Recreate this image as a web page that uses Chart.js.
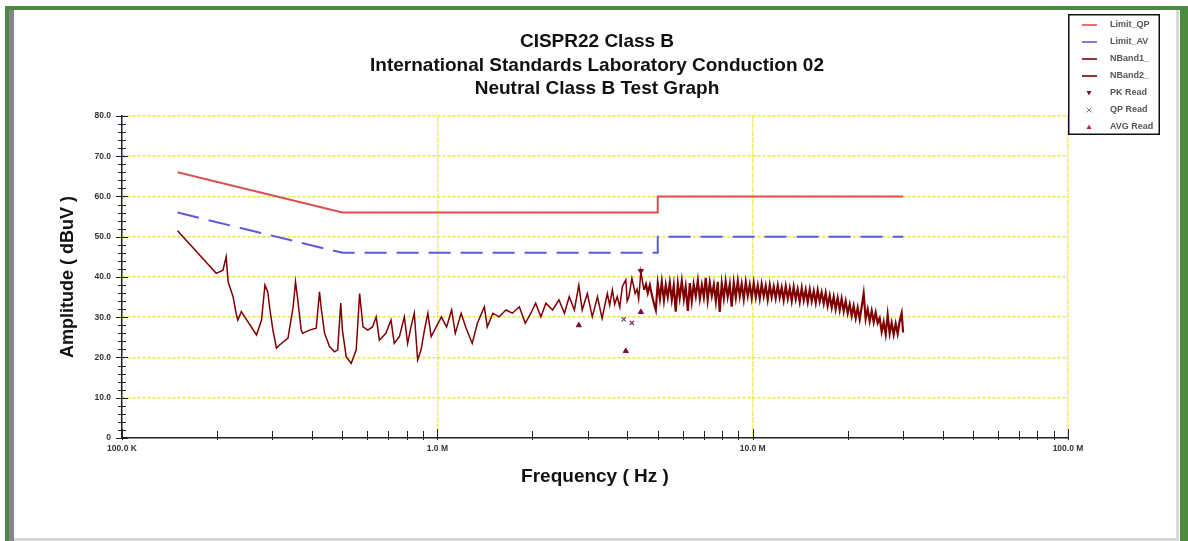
<!DOCTYPE html>
<html><head><meta charset="utf-8">
<script src="https://cdn.jsdelivr.net/npm/chart.js@4.4.0/dist/chart.umd.min.js"></script>
<style>
html,body{margin:0;padding:0;background:#fff;width:1188px;height:541px;overflow:hidden;position:relative}
.fr{position:absolute}
#c{position:absolute;left:0;top:0}
</style></head><body>
<div class="fr" style="left:5px;top:6px;width:1183px;height:4px;background:#4c8a40"></div>
<div class="fr" style="left:5px;top:6px;width:4px;height:535px;background:#4c8a40"></div>
<div class="fr" style="left:9px;top:10px;width:5px;height:531px;background:#86858f"></div>
<div class="fr" style="left:1180px;top:6px;width:8px;height:535px;background:#4c8a40"></div>
<div class="fr" style="left:1176px;top:10px;width:3px;height:531px;background:#d8d8d8"></div>
<div class="fr" style="left:14px;top:538px;width:1162px;height:3px;background:#d6d6d6"></div>
<canvas id="c" width="1188" height="541"></canvas>
<script>
// ---------- data ----------
const titleLines = ['CISPR22 Class B', 'International Standards Laboratory Conduction 02', 'Neutral Class B Test Graph'];
const xAxisTitle = 'Frequency ( Hz )';
const yAxisTitle = 'Amplitude ( dBuV )';

const xMajorValues = [0.1, 1, 10, 100];           // MHz
const xMajorLabels = ['100.0 K', '1.0 M', '10.0 M', '100.0 M'];
const xMinorValues = [0.2,0.3,0.4,0.5,0.6,0.7,0.8,0.9, 2,3,4,5,6,7,8,9, 20,30,40,50,60,70,80,90];
const yMajorValues = [0,10,20,30,40,50,60,70,80];
const yMajorLabels = ['0','10.0','20.0','30.0','40.0','50.0','60.0','70.0','80.0'];

const limitQpFreq = [0.15, 0.5, 5, 5, 30];
const limitQpAmp  = [66, 56, 56, 60, 60];
const limitAvFreq = [0.15, 0.5, 5, 5, 30];
const limitAvAmp  = [56, 46, 46, 50, 50];

const nband1Freq = [0.150,0.199,0.209,0.214,0.217,0.225,0.230,0.233,0.239,0.267,0.277,0.284,0.290,0.294,0.301,0.309,0.316,0.336,0.349,0.355,0.361,0.370,0.374,0.393,0.413,0.423,0.429,0.439,0.455,0.472,0.483,0.494,0.500,0.514,0.533,0.553,0.567,0.581,0.602,0.623,0.640,0.655,0.687,0.713,0.730,0.758,0.786,0.805,0.825,0.845,0.866,0.888,0.910,0.933,0.956,0.992,1.03,1.07,1.11,1.14,1.19,1.23,1.29,1.34,1.41,1.44,1.50,1.57,1.65,1.73,1.82,1.90,1.98,2.05,2.13,2.21,2.32,2.43,2.53,2.62,2.72,2.81,2.88,2.99,3.10,3.22,3.33,3.46,3.52,3.59,3.65,3.72,3.79,3.86,3.96,4.00,4.05,4.14,4.24,4.30,4.35,4.42,4.52];
const nband1Amp  = [51.5,40.9,41.7,45.0,38.8,35.1,31.0,29.3,31.4,25.6,29.3,38.0,36.3,32.3,26.8,22.3,23.1,24.8,32.6,38.8,34.3,26.8,26.0,26.8,27.3,36.3,31.8,26.0,22.7,21.4,21.9,33.5,26.8,20.2,18.5,21.9,35.9,27.6,26.8,27.6,30.1,24.3,26.0,29.3,23.5,25.2,30.1,23.5,27.6,31.0,19.4,21.9,26.8,31.0,25.2,27.6,30.1,27.6,31.8,26.0,31.0,27.6,23.5,28.5,32.6,27.6,31.0,30.1,31.8,31.0,32.6,28.5,31.0,33.5,30.1,33.5,31.8,34.3,31.0,35.1,31.8,38.0,31.8,35.9,30.1,35.1,29.7,35.9,33.0,36.8,33.2,35.1,32.5,37.6,39.3,34.0,35.1,39.7,35.9,37.0,34.5,41.3,36.8];

const nband2Freq = [4.52,4.59,4.65,4.72,4.79,4.86,4.93,5.00,5.08,5.15,5.23,5.30,5.38,5.46,5.54,5.62,5.70,5.79,5.87,5.96,6.05,6.13,6.23,6.32,6.41,6.50,6.60,6.70,6.80,6.90,7.00,7.10,7.20,7.31,7.42,7.53,7.64,7.75,7.86,7.98,8.10,8.21,8.33,8.46,8.58,8.71,8.84,8.97,9.10,9.23,9.37,9.51,9.65,9.79,9.93,10.08,10.23,10.38,10.53,10.68,10.84,11.00,11.16,11.33,11.49,11.66,11.83,12.01,12.18,12.36,12.54,12.73,12.92,13.11,13.30,13.49,13.69,13.89,14.10,14.31,14.52,14.73,14.95,15.17,15.39,15.62,15.85,16.08,16.31,16.55,16.80,17.04,17.29,17.55,17.81,18.07,18.33,18.60,18.88,19.15,19.44,19.72,20.01,20.31,20.61,20.91,21.22,21.53,21.85,22.17,22.49,22.82,23.16,23.50,23.85,24.20,24.55,24.91,25.28,25.65,26.03,26.41,26.80,27.19,27.59,28.00,28.41,28.83,29.25,29.68,30.00];
const nband2Amp  = [36.8,38.2,36.0,38.0,35.5,33.5,31.8,38.4,34.6,38.8,34.2,38.0,35.0,38.6,34.4,37.9,31.4,38.3,34.8,39.0,34.5,37.6,31.6,38.5,34.0,38.2,35.2,39.1,34.6,38.0,35.0,39.8,34.3,38.6,35.3,38.1,34.0,38.8,31.3,38.4,34.7,38.9,35.1,38.2,32.6,38.6,34.9,39.0,35.2,38.3,34.5,38.7,35.3,38.1,34.8,38.5,35.0,37.9,34.6,38.2,35.2,37.8,34.4,38.0,35.0,37.6,34.7,37.9,34.9,37.4,34.3,37.7,34.6,37.2,34.1,37.5,34.5,37.0,33.9,37.3,34.2,36.8,33.8,36.9,34.0,36.5,33.6,36.7,33.9,36.2,33.4,36.0,32.8,35.4,32.4,35.1,32.0,34.8,31.8,34.6,31.5,34.0,31.0,33.2,30.3,32.8,29.8,32.4,29.5,32.6,35.9,29.6,32.0,29.0,31.6,28.8,31.2,28.6,29.8,26.4,28.8,25.8,30.6,26.0,28.6,25.7,28.4,25.9,29.0,31.0,26.2];

const pkReadFreq  = [4.42];
const pkReadAmp   = [41.5];
const qpReadFreq  = [3.90, 4.14];
const qpReadAmp   = [29.5, 28.6];
const avgReadFreq = [2.81, 3.96, 4.42];
const avgReadAmp  = [28.0, 21.6, 31.3];

// ---------- build ----------
const pts = (fx, fy) => fx.map((f, i) => ({x: f, y: fy[i]}));
const FONT = "'Liberation Sans', Arial, sans-serif";
const YELLOW = 'rgba(232,232,50,0.95)';

const datasets = [
  {label: 'Limit_QP', data: pts(limitQpFreq, limitQpAmp), borderColor: '#dc5050', borderWidth: 2, pointRadius: 0, legendKind: 'line'},
  {label: 'Limit_AV', data: pts(limitAvFreq, limitAvAmp), borderColor: '#5a5ade', borderWidth: 2, borderDash: [22, 10], pointRadius: 0, legendKind: 'line'},
  {label: 'NBand1_', data: pts(nband1Freq, nband1Amp), borderColor: '#800000', borderWidth: 1.5, pointRadius: 0, legendKind: 'line'},
  {label: 'NBand2_', data: pts(nband2Freq, nband2Amp), borderColor: '#800000', borderWidth: 2.2, pointRadius: 0, legendKind: 'line'},
  {label: 'PK Read', data: pts(pkReadFreq, pkReadAmp), showLine: false, pointStyle: 'triangle', rotation: 180, pointRadius: 3, backgroundColor: '#7a1020', borderColor: '#7a1020', legendKind: 'tdown'},
  {label: 'QP Read', data: pts(qpReadFreq, qpReadAmp), showLine: false, pointStyle: 'crossRot', pointRadius: 3, borderWidth: 1.2, borderColor: '#7a3060', legendKind: 'cross', legendColor: '#9a70b0'},
  {label: 'AVG Read', data: pts(avgReadFreq, avgReadAmp), showLine: false, pointStyle: 'triangle', pointRadius: 3, backgroundColor: '#7a1030', borderColor: '#7a1030', legendKind: 'tup', legendColor: '#c02030'}
];

const isMajorX = v => xMajorValues.some(m => Math.abs(m - v) / m < 1e-6);

const axisTicks = {
  id: 'axisTicks',
  afterDraw(chart) {
    const {ctx, chartArea: a} = chart;
    const xs = chart.scales.x, ys = chart.scales.y;
    ctx.save();
    ctx.strokeStyle = '#222';
    ctx.lineWidth = 1;
    ctx.beginPath();
    xs.ticks.forEach(t => {
      const px = Math.round(xs.getPixelForValue(t.value)) + 0.5;
      const h = isMajorX(t.value) ? 9 : 7;
      ctx.moveTo(px, a.bottom - h);
      ctx.lineTo(px, a.bottom + 2);
    });
    ys.ticks.forEach(t => {
      const py = Math.round(ys.getPixelForValue(t.value)) + 0.5;
      const w = t.value % 10 === 0 ? 6 : 4;
      ctx.moveTo(a.left - w, py);
      ctx.lineTo(a.left + w, py);
    });
    ctx.stroke();
    ctx.restore();
  }
};

const legendBox = {
  id: 'legendBox',
  afterDraw(chart) {
    const ctx = chart.ctx;
    const bx = chart.chartArea.right, by = 14, bw = 92, bh = 121;
    ctx.save();
    ctx.fillStyle = '#fff';
    ctx.fillRect(bx, by, bw, bh);
    ctx.strokeStyle = '#111';
    ctx.lineWidth = 1.5;
    ctx.strokeRect(bx + 0.75, by + 0.75, bw - 1.5, bh - 1.5);
    ctx.beginPath();
    ctx.rect(bx + 2, by + 2, bw - 4, bh - 4);
    ctx.clip();
    const ds = chart.data.datasets;
    const step = 17;
    ds.forEach((d, i) => {
      const y = by + 11 + i * step;
      const cx = bx + 21;
      const col = d.legendColor || d.borderColor;
      ctx.strokeStyle = col; ctx.fillStyle = col;
      ctx.setLineDash([]);
      if (d.legendKind === 'line') {
        ctx.lineWidth = 1.6;
        ctx.beginPath(); ctx.moveTo(cx - 7, y); ctx.lineTo(cx + 8, y); ctx.stroke();
      } else if (d.legendKind === 'tdown') {
        ctx.beginPath(); ctx.moveTo(cx - 2.5, y - 2); ctx.lineTo(cx + 2.5, y - 2); ctx.lineTo(cx, y + 2.5); ctx.closePath(); ctx.fill();
      } else if (d.legendKind === 'tup') {
        ctx.beginPath(); ctx.moveTo(cx - 2.5, y + 2); ctx.lineTo(cx + 2.5, y + 2); ctx.lineTo(cx, y - 2.5); ctx.closePath(); ctx.fill();
      } else if (d.legendKind === 'cross') {
        ctx.lineWidth = 1;
        ctx.beginPath(); ctx.moveTo(cx - 2.5, y - 2.5); ctx.lineTo(cx + 2.5, y + 2.5); ctx.moveTo(cx + 2.5, y - 2.5); ctx.lineTo(cx - 2.5, y + 2.5); ctx.stroke();
      }
      ctx.fillStyle = '#555';
      ctx.font = `bold 9px ${FONT}`;
      ctx.textBaseline = 'middle';
      ctx.textAlign = 'left';
      ctx.fillText(d.label, bx + 42, y);
    });
    ctx.restore();
  }
};

new Chart(document.getElementById('c'), {
  type: 'line',
  data: {datasets},
  options: {
    responsive: false,
    animation: false,
    devicePixelRatio: 1,
    parsing: true,
    elements: {line: {tension: 0}},
    layout: {padding: {left: 6, right: 0, top: 0, bottom: 43}},
    plugins: {
      legend: {display: false},
      tooltip: {enabled: false},
      title: {
        display: true, text: titleLines, color: '#111',
        font: {family: FONT, size: 19, weight: 'bold', lineHeight: 1.24},
        padding: {top: 30, bottom: 15.3}
      }
    },
    scales: {
      x: {
        type: 'logarithmic', min: 0.1, max: 100, position: 'bottom',
        afterBuildTicks: s => { s.ticks = xMajorValues.concat(xMinorValues).sort((p, q) => p - q).map(v => ({value: v})); },
        afterFit: s => { s.height = 60; },
        ticks: {
          autoSkip: false, maxRotation: 0, minRotation: 0, padding: 6, color: '#333',
          font: {family: FONT, size: 8.5, weight: 'bold'},
          callback: v => { const i = xMajorValues.findIndex(m => Math.abs(m - v) / m < 1e-6); return i >= 0 ? xMajorLabels[i] : ''; }
        },
        grid: {
          drawTicks: false, lineWidth: 1.5,
          color: c => (c.tick && isMajorX(c.tick.value) && c.tick.value > 0.5) ? 'rgba(240,240,80,0.9)' : 'rgba(0,0,0,0)'
        },
        border: {display: true, color: '#222', width: 1.5, dash: [6, 1]},
        title: {display: true, text: xAxisTitle, color: '#111', font: {family: FONT, size: 19, weight: 'bold', lineHeight: 1.2}, padding: {top: 0, bottom: 9.6}}
      },
      y: {
        type: 'linear', min: 0, max: 80, position: 'left',
        afterBuildTicks: s => { const t = []; for (const v of yMajorValues) { t.push({value: v}); if (v < 80) [2,4,6,8].forEach(k => t.push({value: v + k})); } s.ticks = t.sort((p, q) => p.value - q.value); },
        afterFit: s => { s.width = 116; },
        ticks: {
          autoSkip: false, padding: 11, color: '#333',
          font: {family: FONT, size: 8.5, weight: 'bold'},
          callback: v => { const i = yMajorValues.indexOf(v); return i >= 0 ? yMajorLabels[i] : ''; }
        },
        grid: {
          drawTicks: false, lineWidth: 1.6,
          color: c => (c.tick && c.tick.value % 10 === 0 && c.tick.value > 0) ? YELLOW : 'rgba(0,0,0,0)'
        },
        border: {display: true, color: '#222', width: 1.5, dash: [3, 2]},
        title: {display: true, text: yAxisTitle, color: '#111', font: {family: FONT, size: 18, weight: 'bold', lineHeight: 1.2}, padding: {top: 51.2, bottom: 0}}
      },
      y2: {
        type: 'linear', position: 'right', display: true,
        afterFit: s => { s.width = 120; },
        grid: {display: false, drawTicks: false},
        border: {display: false},
        ticks: {display: false}
      }
    }
  },
  plugins: [axisTicks, legendBox]
});
</script>
</body></html>
